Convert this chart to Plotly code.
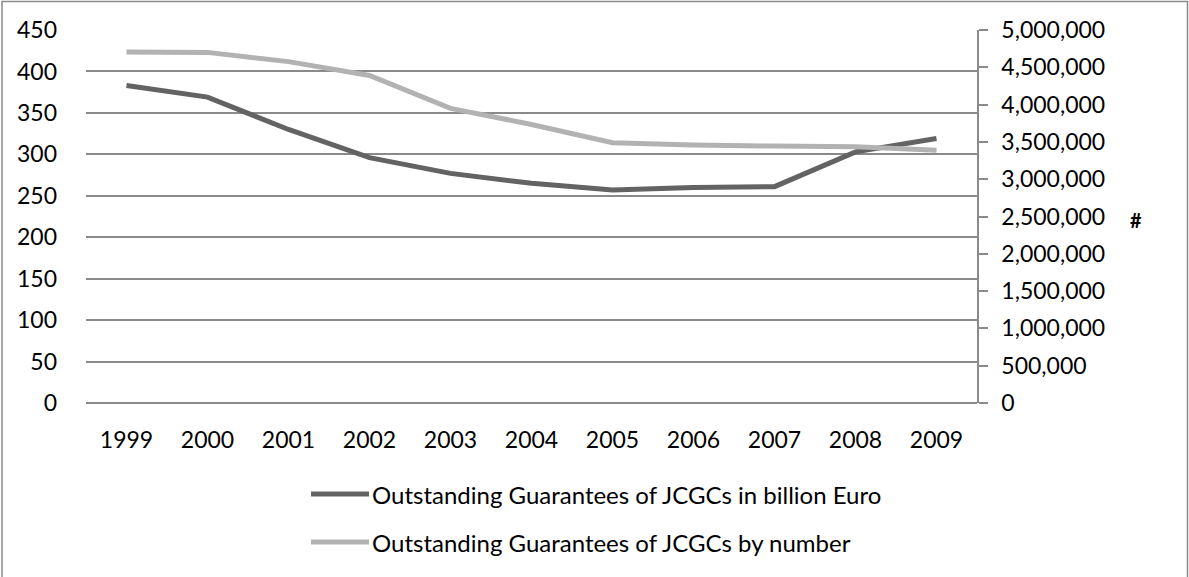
import plotly.graph_objects as go

years = ["1999", "2000", "2001", "2002", "2003", "2004", "2005", "2006", "2007", "2008", "2009"]
billion_euro = [383, 369, 330, 296, 277, 265, 257, 260, 261, 303, 319]
by_number = [4705000, 4700000, 4576000, 4390000, 3950000, 3734000, 3489000, 3458000, 3444000, 3434000, 3387000]
left_ticks = list(range(0, 451, 50))
right_ticks = list(range(0, 5000001, 500000))
name_dark = "Outstanding Guarantees of JCGCs in billion Euro"
name_light = "Outstanding Guarantees of JCGCs by number"

W, H = 1189, 577
L, R, T, B = 86, 977, 30, 403  # plot area in px
FONT = "Lato"
FS = 23
FS_LEG = 24
DARK = "#636363"
LIGHT = "#b2b2b2"
GRID = "#8a8a8a"


def px_x(px):
    return (px - L) / (R - L)


def px_y(py):
    return (B - py) / (B - T)


fig = go.Figure()
fig.add_trace(go.Scatter(x=years, y=billion_euro, mode="lines", name=name_dark,
                         line=dict(color=DARK, width=5), yaxis="y", showlegend=False))
fig.add_trace(go.Scatter(x=years, y=by_number, mode="lines", name=name_light,
                         line=dict(color=LIGHT, width=5), yaxis="y2", showlegend=False))

fig.update_layout(
    width=W, height=H,
    margin=dict(l=L, r=W - R, t=T, b=H - B, pad=0, autoexpand=False),
    paper_bgcolor="white", plot_bgcolor="white",
    font=dict(family=FONT, size=FS, color="#000000"),
    xaxis=dict(type="category", range=[-0.5, 10.5], showgrid=False, zeroline=False,
               showline=False, ticks="", ticklabelstandoff=21, automargin=False,
               tickfont=dict(family=FONT, size=FS)),
    yaxis=dict(range=[0, 450], tickvals=left_ticks, showgrid=True, gridcolor=GRID, gridwidth=1.5,
               zeroline=True, zerolinecolor=GRID, zerolinewidth=1.5, showline=False, ticks="",
               ticklabelstandoff=28, automargin=False, tickfont=dict(family=FONT, size=FS)),
    yaxis2=dict(range=[0, 5000000], tickvals=right_ticks, tickformat=",d", overlaying="y",
                side="right", showgrid=False, zeroline=False, showline=True, linecolor=GRID,
                linewidth=1.5, ticks="outside", ticklen=9, tickcolor=GRID, tickwidth=1.5,
                ticklabelstandoff=9, automargin=False, tickfont=dict(family=FONT, size=FS)),
)

# chart area border
fig.add_shape(type="rect", xref="paper", yref="paper",
              x0=px_x(2), x1=px_x(1187.5), y0=px_y(640), y1=px_y(1.5),
              line=dict(color=GRID, width=1.5), fillcolor="rgba(0,0,0,0)", layer="below")

# right axis title
fig.add_annotation(text="<b>#</b>", xref="paper", yref="paper", x=px_x(1136), y=px_y(220),
                   showarrow=False, font=dict(family=FONT, size=20, color="#000"),
                   xanchor="center", yanchor="middle")

# custom legend
for ypx, col, name in [(494, DARK, name_dark), (542, LIGHT, name_light)]:
    fig.add_shape(type="line", xref="paper", yref="paper", x0=px_x(311), x1=px_x(369),
                  y0=px_y(ypx), y1=px_y(ypx), line=dict(color=col, width=5))
    fig.add_annotation(text=name, xref="paper", yref="paper", x=px_x(370), y=px_y(ypx),
                       showarrow=False, xanchor="left", yanchor="middle",
                       font=dict(family=FONT, size=FS_LEG, color="#000"))

fig.write_html("out.html", config={"displayModeBar": False},
               post_script="document.body.style.margin='0';document.body.style.overflow='hidden';")
